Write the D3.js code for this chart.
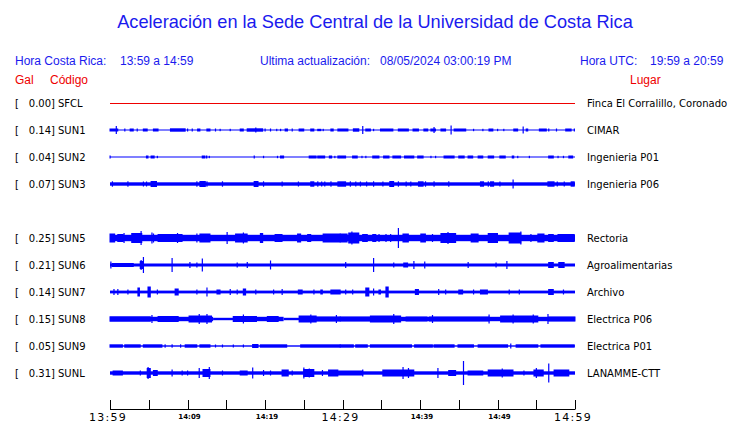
<!DOCTYPE html>
<html><head><meta charset="utf-8">
<script src="https://cdn.jsdelivr.net/npm/d3@7"></script>
<style>
html,body{margin:0;padding:0;background:#fff;}
svg{display:block;}
</style></head>
<body>
<svg id="chart" width="740" height="423"></svg>
<script>
// ---------- DATA ----------
const title = "Aceleración en la Sede Central de la Universidad de Costa Rica";
const localWindow = "13:59 a 14:59";
const utcWindow = "19:59 a 20:59";
const updated = "08/05/2024 03:00:19 PM";

const codes  = ["SFCL","SUN1","SUN2","SUN3","SUN5","SUN6","SUN7","SUN8","SUN9","SUNL"];
const slots  = [0,1,2,3,5,6,7,8,9,10];           // SUN4 slot (4) is empty
const gal    = ["0.00","0.14","0.04","0.07","0.25","0.21","0.14","0.15","0.05","0.31"];
const places = ["Finca El Corralillo, Coronado","CIMAR","Ingenieria P01","Ingenieria P06",
                "Rectoria","Agroalimentarias","Archivo","Electrica P06","Electrica P01","LANAMME-CTT"];

// minutes after 13:59
const tickMinutes = [0,5,10,15,20,25,30,35,40,45,50,55,60];
const tickLabels  = {0:"13:59",10:"14:09",20:"14:19",30:"14:29",40:"14:39",50:"14:49",60:"14:59"};
const majorLabels = [0,30,60];

// background amplitude segments per trace: [t0, t1, halfAmp]
const bandSFCL = [[0,60,0]];
const bandSUN1 = [[0,60,0.5]];
const bandSUN2 = [[0,60,0.5]];
const bandSUN3 = [[0,60,1.7]];
const bandSUN5 = [[0,60,3.2]];
const bandSUN6 = [[0,60,1.5]];
const bandSUN7 = [[0,60,1.4]];
const bandSUN8 = [[0,13.3,2.2],[13.3,15.9,1.2],[15.9,22.4,2.2],[22.4,24.4,1.2],[24.4,60,2.2]];
const bandSUN9 = [[0,60,0.7]];
const bandSUNL = [[0,60,1.7]];

// bursts per trace: [t0, t1, halfAmp]
const burstSFCL = [];
const burstSUN1 = [[0,1.0,1.5],[0.8,0.8,4],[1.9,1.9,1.5],[2.6,3.0,1.5],[3.5,3.5,1.5],[4.3,4.8,1.5],[5.6,6.2,1.5],
  [7.8,9.7,1.7],[10.0,10.0,1.5],[10.6,10.6,1.5],[11.3,11.6,1.5],[12.5,12.9,1.5],[13.6,13.6,1.5],[14.2,14.2,1.2],
  [15.5,15.5,1.2],[16.8,17.2,1.5],[17.7,19.7,1.7],[18.8,18.8,2.5],[20.0,20.0,1.5],[20.7,20.7,1.5],[21.5,21.5,1.2],
  [22.0,22.0,1.2],[22.6,22.9,1.5],[23.5,23.5,1.5],[24.4,25.0,1.5],[25.9,26.3,1.5],[26.8,27.2,1.2],[27.5,27.5,1.2],
  [28.5,28.8,1.5],[29.4,30.7,1.5],[31.4,32.1,1.7],[32.6,32.6,4],[33.0,33.6,1.5],[34.0,34.0,1.2],[34.9,36.5,1.5],
  [37.2,38.5,1.5],[39.1,39.8,1.5],[40.5,41.0,1.5],[41.4,42.0,1.5],[41.8,41.8,3],[42.7,43.3,1.5],[44.0,44.0,4.5],
  [44.4,45.9,1.5],[46.9,46.9,1.2],[48.1,48.1,1.2],[48.9,49.4,1.5],[50.0,50.0,1.2],[50.8,50.8,1.2],[52.1,52.6,1.5],
  [53.3,53.3,3.5],[53.7,53.9,1.5],[55.4,56.3,1.5],[56.6,56.6,1.5],[57.6,57.6,1.5],[58.8,59.5,1.5],[59.9,59.9,1.5]];
const burstSUN2 = [[0,0,1.5],[4.7,4.9,1.5],[5.3,5.7,1.5],[6.1,6.1,1.2],[11.9,12.2,1.5],[12.4,12.5,1.5],[12.8,12.8,1.2],
  [18.6,18.6,1.5],[19.8,19.8,1.2],[21.6,21.6,1.2],[22.0,22.4,1.5],[25.7,26.6,1.5],[26.8,27.7,1.5],[28.3,28.6,1.5],
  [29.0,29.0,1.2],[29.4,29.6,1.5],[29.7,30.4,1.5],[31.3,31.9,1.5],[32.5,32.5,1.2],[33.0,33.0,1.2],[33.9,34.7,1.5],
  [35.3,36.0,1.5],[36.5,37.5,1.5],[38.0,39.2,1.5],[39.7,40.4,1.5],[41.4,41.4,1.2],[42.0,42.0,1.2],[43.1,44.4,1.5],
  [45.0,45.7,1.5],[46.2,46.8,1.5],[47.5,48.1,1.5],[48.8,49.5,1.5],[50.3,51.0,1.5],[51.9,52.1,1.5],[52.6,52.6,1.2],
  [54.1,54.1,1.2],[56.6,57.2,1.5],[57.8,57.8,1.2],[58.5,58.5,1.2],[59.2,59.7,1.5]];
const burstSUN3 = [[0.3,0.3,2.7],[2.3,2.3,2.7],[4.3,4.3,2.5],[4.7,4.7,2.5],[5.3,6.0,3],[11.2,11.2,2.7],[11.6,12.3,3],
  [12.5,12.5,2.7],[14.5,14.5,2.7],[18.6,19.1,3],[19.8,19.8,2.7],[22.2,22.2,2.5],[24.3,24.3,2.5],[25.9,26.3,2.7],
  [26.8,26.8,2.7],[27.3,27.3,2.5],[27.7,27.7,2.5],[28.5,28.5,2.7],[29.4,29.6,2.7],[29.7,30.4,2.7],[31.0,31.0,2.7],
  [31.7,31.7,2.5],[32.3,32.3,2.5],[33.1,33.1,2.5],[34.0,34.0,2.7],[35.2,35.2,2.5],[36.1,36.6,3],[37.2,37.2,2.7],
  [38.2,38.2,2.5],[38.8,38.8,2.5],[39.8,40.4,2.7],[40.7,40.7,2.7],[41.8,41.8,2.7],[43.7,43.7,2.7],[47.8,48.2,2.7],
  [48.8,48.8,2.7],[49.1,49.5,2.7],[50.3,50.3,2.5],[52.0,52.0,4.5],[56.5,57.3,2.7],[57.7,57.7,2.5],[58.6,58.6,2.5],
  [59.5,59.9,2.7]];
const burstSUN5 = [[0,0.6,4.5],[1.0,1.7,4],[1.8,1.8,5],[2.8,4.1,5],[4.0,4.0,7],[5.4,5.4,5.5],[5.6,5.6,4.5],[6.2,9.3,4],
  [8.7,8.7,5],[11.2,11.2,4.5],[11.6,12.9,4.5],[15.1,15.1,6],[16.2,17.7,4.5],[17.2,17.2,5.5],[19.4,19.7,5],[21.3,22.2,4],
  [24.2,24.6,4.5],[25.5,25.9,4],[27.5,29.7,4.5],[29.7,30.6,4.5],[30.8,32.1,5.5],[31.2,31.2,6.5],[32.6,33.2,4],
  [33.9,34.3,4],[34.7,34.7,4],[35.6,35.6,4],[36.2,36.2,4],[37.2,37.2,10],[37.8,38.5,4.5],[40.1,40.7,4.5],[41.6,41.6,4],
  [42.7,44.6,5],[43.6,43.6,6],[46.6,47.5,4.5],[48.8,50.0,5],[51.5,53.0,5.5],[53.0,53.0,6.5],[54.3,54.3,4],
  [55.2,56.0,4.5],[56.6,57.2,4],[57.8,59.9,4]];
const burstSUN6 = [[0.1,0.1,3.5],[0.3,3.0,2],[3.9,4.3,4],[4.0,4.0,5],[4.3,4.3,8],[8.0,8.0,7],[10.3,10.3,3],[11.2,11.2,2.5],
  [11.9,11.9,6.5],[16.4,16.4,2.5],[17.7,17.7,3],[20.7,20.7,4.5],[30.4,30.4,3],[34.0,34.0,7],[36.6,36.6,2.5],
  [37.9,38.4,2.5],[39.2,39.2,4],[40.6,40.6,3.5],[46.2,46.2,3],[49.8,49.8,2.5],[51.2,51.2,4],[56.6,57.2,3],[57.9,58.6,3]];
const burstSUN7 = [[0.5,0.5,3],[1.0,1.0,3],[2.3,2.3,2.5],[3.6,3.8,4.5],[4.9,5.2,5.5],[6.1,6.1,2.5],[8.4,8.8,3.5],
  [11.2,11.2,2.5],[12.5,12.5,4.5],[13.8,14.2,2.5],[15.5,15.5,3],[16.4,16.4,2.5],[17.2,17.5,3.5],[18.8,18.8,2.5],
  [21.1,21.1,2.5],[22.2,22.2,3],[24.3,24.8,2.5],[26.3,26.3,2.5],[27.2,27.4,2.5],[28.5,29.7,2.5],[30.4,30.4,2.5],
  [31.3,31.3,2.5],[33.0,33.4,4.5],[34.0,34.0,3.5],[34.7,34.9,2.5],[35.6,35.9,5.5],[39.4,39.8,3],[42.4,42.4,3],
  [43.3,43.3,2.5],[45.0,45.5,2.5],[46.9,46.9,2.5],[47.8,48.7,2.5],[51.5,51.5,2.5],[52.8,52.8,2.5],[56.6,57.2,3],
  [58.5,58.5,2.5]];
const burstSUN8 = [[0,5.2,2.7],[5.4,5.4,4],[6.2,8.8,3],[10.2,13.1,3.5],[11.5,11.5,5],[12.5,12.5,5],[15.9,18.9,3],
  [17.2,17.2,4.5],[20.3,21.7,3],[24.4,26.6,3.5],[25.9,25.9,4.5],[26.6,29.7,2.5],[29.2,29.2,4],[29.7,33.6,2.5],
  [33.6,37.5,3.5],[36.6,36.6,5],[38.2,40.9,2.5],[41.6,41.6,4],[41.2,48.9,2.5],[48.9,48.9,4.5],[50.4,55.2,3.5],
  [52.0,52.0,4.5],[54.6,54.6,4.5],[56.5,56.5,5],[56.6,60,2.5]];
const burstSUN9 = [[0,1.6,1.7],[1.9,3.9,1.7],[4.3,6.7,1.7],[7.1,7.1,1.7],[8.0,8.0,1.7],[9.1,9.1,1.7],[9.7,11.2,1.7],
  [11.6,12.9,1.7],[13.6,13.6,1.5],[14.5,14.5,1.5],[15.9,15.9,1.5],[17.2,17.2,1.5],[18.4,19.1,2],[19.4,22.8,1.7],
  [24.6,29.7,1.7],[29.7,31.4,1.7],[31.7,33.2,1.7],[33.6,38.9,1.7],[39.3,41.6,1.7],[41.8,44.4,1.7],[44.9,46.9,1.7],
  [47.5,51.3,1.7],[51.7,51.7,2.5],[52.4,55.2,1.7],[55.6,59.9,1.7]];
const burstSUNL = [[0.4,1.6,2.5],[3.9,3.9,2.5],[4.8,5.2,5],[4.9,4.9,6],[5.6,6.1,3],[8.0,8.0,3.5],[9.3,9.3,2.5],
  [10.0,10.0,2.5],[11.5,11.5,5],[12.0,12.9,4],[12.8,12.8,6],[14.5,14.5,2.5],[16.8,17.7,2.5],[18.4,18.4,5.5],
  [19.8,19.8,3],[20.7,20.7,2.5],[22.2,23.0,3.5],[23.5,23.5,2.5],[25.0,26.3,4],[25.0,25.0,5.5],[25.7,25.7,4.5],
  [27.4,27.4,3],[28.2,29.4,3.5],[29.4,32.6,2.5],[32.6,32.6,3.5],[35.2,39.2,3.5],[37.8,37.8,6],[38.5,38.5,5],
  [42.3,42.3,5],[43.7,44.6,3],[45.6,45.6,12],[46.2,48.1,2.5],[48.8,52.0,3.5],[50.6,50.6,4.5],[53.4,53.4,2.5],
  [54.7,55.9,3.5],[55.0,55.0,5],[56.6,56.6,9.5],[57.3,59.2,3.5]];

const bands  = [bandSFCL,bandSUN1,bandSUN2,bandSUN3,bandSUN5,bandSUN6,bandSUN7,bandSUN8,bandSUN9,bandSUNL];
const bursts = [burstSFCL,burstSUN1,burstSUN2,burstSUN3,burstSUN5,burstSUN6,burstSUN7,burstSUN8,burstSUN9,burstSUNL];

// ---------- DRAW ----------
const svg = d3.select("#chart");
const BLUE = "#1a1aee", RED = "#ee0000";
const x = d3.scaleLinear().domain([0,60]).range([110,575]);
const yRow = d3.scaleLinear().domain([0,10]).range([103,373]);
const amp = d3.scaleLinear().domain([0,10]).range([0,10]);

svg.append("text").attr("x",375).attr("y",28).attr("text-anchor","middle")
  .attr("font-family","Liberation Sans, Arial, sans-serif").attr("font-size",18.2).attr("fill",BLUE).text(title);

const hdr = svg.append("g").attr("font-family","Liberation Sans, Arial, sans-serif").attr("font-size",12).attr("fill",BLUE);
hdr.append("text").attr("x",15).attr("y",65).text("Hora Costa Rica:");
hdr.append("text").attr("x",120).attr("y",65).text(localWindow);
hdr.append("text").attr("x",260).attr("y",65).text("Ultima actualización:");
hdr.append("text").attr("x",380).attr("y",65).text(updated);
hdr.append("text").attr("x",580).attr("y",65).text("Hora UTC:");
hdr.append("text").attr("x",650).attr("y",65).text(utcWindow);

const sub = svg.append("g").attr("font-family","Liberation Sans, Arial, sans-serif").attr("font-size",12).attr("fill",RED);
sub.append("text").attr("x",15).attr("y",84).text("Gal");
sub.append("text").attr("x",50).attr("y",84).text("Código");
sub.append("text").attr("x",630).attr("y",84).text("Lugar");

const rows = svg.append("g").selectAll("g").data(codes).join("g")
  .attr("transform",(d,i)=>`translate(0,${yRow(slots[i])})`);

const lab = rows.append("g").attr("font-family","DejaVu Sans, sans-serif").attr("font-size",10).attr("fill","#000");
lab.append("text").attr("x",15).attr("y",3.6).text("[");
lab.append("text").attr("x",55).attr("y",3.6).attr("text-anchor","end").text((d,i)=>gal[i]+"]");
lab.append("text").attr("x",58).attr("y",3.6).text(d=>d);
lab.append("text").attr("x",587).attr("y",3.6).text((d,i)=>places[i]);

rows.each(function(d,i){
  const g = d3.select(this);
  const col = i===0 ? RED : "#0000ff";
  if (i===0) {
    g.append("line").attr("x1",x(0)).attr("x2",x(60)).attr("y1",0.5).attr("y2",0.5)
      .attr("stroke",col).attr("stroke-width",1);
    return;
  }
  g.selectAll("rect.band").data(bands[i]).join("rect").attr("class","band")
    .attr("x",b=>x(b[0])).attr("width",b=>Math.max(1,x(b[1])-x(b[0])))
    .attr("y",b=>-amp(b[2])).attr("height",b=>Math.max(1,2*amp(b[2])))
    .attr("fill",col);
  g.selectAll("rect.burst").data(bursts[i]).join("rect").attr("class","burst")
    .attr("x",b=>x(b[0])-0.5).attr("width",b=>Math.max(1.2,x(b[1])-x(b[0])+1))
    .attr("y",b=>-amp(b[2])).attr("height",b=>2*amp(b[2]))
    .attr("fill",col);
});

// time axis
const axisY = 409;
const ax = svg.append("g");
ax.append("line").attr("x1",x(0)).attr("x2",x(60)).attr("y1",axisY+0.5).attr("y2",axisY+0.5).attr("stroke","#000");
ax.selectAll("line.tk").data(tickMinutes).join("line").attr("class","tk")
  .attr("x1",d=>Math.round(x(d))+0.5).attr("x2",d=>Math.round(x(d))+0.5)
  .attr("y1",axisY-9).attr("y2",axisY+0.5).attr("stroke","#000");
ax.selectAll("text").data(Object.keys(tickLabels).map(Number)).join("text")
  .attr("x",d=>x(d) + (majorLabels.includes(d)? -2 : 2)).attr("y",d=>majorLabels.includes(d)?420.5:419)
  .attr("text-anchor","middle").attr("font-family","DejaVu Sans, sans-serif")
  .attr("letter-spacing",d=>majorLabels.includes(d)?1.3:0)
  .attr("font-size",d=>majorLabels.includes(d)?11:7).attr("font-weight",d=>majorLabels.includes(d)?"normal":"bold")
  .attr("fill","#000").text(d=>tickLabels[d]);
</script>
</body></html>
